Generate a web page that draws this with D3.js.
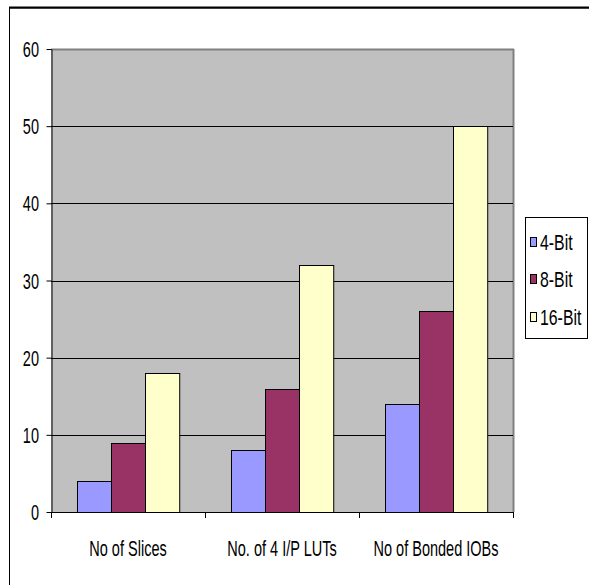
<!DOCTYPE html>
<html>
<head>
<meta charset="utf-8">
<script src="https://cdn.jsdelivr.net/npm/d3@7"></script>
<style>
  html, body { margin: 0; padding: 0; background: #fff; }
  svg text { font-family: "Liberation Sans", Arial, sans-serif; }
</style>
</head>
<body>
<svg id="chart" width="589" height="585"></svg>
<script>
const categories = ["No of Slices", "No. of 4 I/P LUTs", "No of Bonded IOBs"];
const seriesNames = ["4-Bit", "8-Bit", "16-Bit"];
const bits4 = [4, 8, 14];
const bits8 = [9, 16, 26];
const bits16 = [18, 32, 50];
const yTicks = [0, 10, 20, 30, 40, 50, 60];
const colors = ["#9999FF", "#993366", "#FFFFCC"];

const seriesValues = [bits4, bits8, bits16];
const svg = d3.select("#chart");
const FONT = 22, NARROW = 0.66;

// condensed label: horizontally squeezed text anchored at (x, y)
function label(parent, x, y, txt, anchor, sx) {
  return parent.append("text")
    .attr("transform", `translate(${x},${y}) scale(${sx || NARROW},1)`)
    .attr("text-anchor", anchor || "start")
    .attr("font-size", FONT).attr("fill", "#000")
    .text(txt);
}

// outer chart frame
svg.append("rect").attr("x", 9.5).attr("y", 8).attr("width", 600).attr("height", 600)
  .attr("fill", "#fff").attr("stroke", "#000").attr("stroke-width", 1);
svg.append("line").attr("x1", 9).attr("x2", 589).attr("y1", 7.5).attr("y2", 7.5)
  .attr("stroke", "#000").attr("stroke-width", 2);

const plot = { left: 51, right: 513, top: 49, bottom: 512 };

const x = d3.scaleBand().domain(categories).range([plot.left, plot.right]).paddingInner(0).paddingOuter(0);
const inner = d3.scaleBand().domain(seriesNames).range([0, x.bandwidth()]).paddingInner(0).paddingOuter(0.75);
const y = d3.scaleLinear().domain([0, 60]).range([plot.bottom, plot.top]);

// plot background
svg.append("rect").attr("x", plot.left).attr("y", plot.top)
  .attr("width", plot.right - plot.left).attr("height", plot.bottom - plot.top)
  .attr("fill", "#C0C0C0");
svg.append("line").attr("x1", plot.left).attr("x2", plot.right + 1).attr("y1", plot.top + 0.5).attr("y2", plot.top + 0.5)
  .attr("stroke", "#808080").attr("stroke-width", 2);
svg.append("line").attr("x1", plot.right + 0.5).attr("x2", plot.right + 0.5).attr("y1", plot.top).attr("y2", plot.bottom)
  .attr("stroke", "#808080").attr("stroke-width", 2);

// gridlines
svg.append("g").selectAll("line").data(yTicks.filter(t => t > 0 && t < 60)).join("line")
  .attr("x1", plot.left).attr("x2", plot.right)
  .attr("y1", d => Math.round(y(d)) + 0.5).attr("y2", d => Math.round(y(d)) + 0.5)
  .attr("stroke", "#000").attr("stroke-width", 1);

// bars
const groups = svg.append("g").selectAll("g").data(categories).join("g")
  .attr("transform", d => `translate(${x(d)},0)`);
groups.selectAll("rect").data((c, i) => seriesNames.map((s, j) => ({ s, v: seriesValues[j][i], j }))).join("rect")
  .attr("x", d => Math.round(inner(d.s)) + 0.5)
  .attr("y", d => Math.round(y(d.v)) + 0.5)
  .attr("width", inner.bandwidth())
  .attr("height", d => y(0) - Math.round(y(d.v)))
  .attr("fill", d => colors[d.j])
  .attr("stroke", "#000").attr("stroke-width", 1);

// y axis: line and ticks from d3, labels condensed
const yAxis = svg.append("g").attr("transform", `translate(${plot.left + 0.5},0)`)
  .call(d3.axisLeft(y).tickValues(yTicks).tickSize(5).tickFormat("").tickSizeOuter(0));
yAxis.select(".domain").attr("stroke", "#000");
const yLabels = svg.append("g");
yTicks.forEach(t => label(yLabels, 39, y(t) + 8, String(t), "end"));

// x axis baseline and category separators
svg.append("line").attr("x1", plot.left).attr("x2", plot.right + 1)
  .attr("y1", plot.bottom + 0.5).attr("y2", plot.bottom + 0.5).attr("stroke", "#000");
const sepX = categories.map(c => x(c)).concat([plot.right]);
svg.append("g").selectAll("line").data(sepX).join("line")
  .attr("x1", d => Math.round(d) + 0.5).attr("x2", d => Math.round(d) + 0.5)
  .attr("y1", plot.bottom).attr("y2", plot.bottom + 6).attr("stroke", "#000");
const xLabels = svg.append("g");
categories.forEach(c => label(xLabels, x(c) + x.bandwidth() / 2, 556, c, "middle"));

// legend
const legend = svg.append("g");
legend.append("rect").attr("x", 525.5).attr("y", 217.5).attr("width", 62).attr("height", 121)
  .attr("fill", "#fff").attr("stroke", "#000");
seriesNames.forEach((s, i) => {
  const cy = 241.5 + i * 37.5;
  legend.append("rect").attr("x", 530.5).attr("y", Math.round(cy - 5) + 0.5).attr("width", 6).attr("height", 9)
    .attr("fill", colors[i]).attr("stroke", "#000");
  label(legend, 540, cy + 8, s, "start", 0.72);
});
</script>
</body>
</html>
